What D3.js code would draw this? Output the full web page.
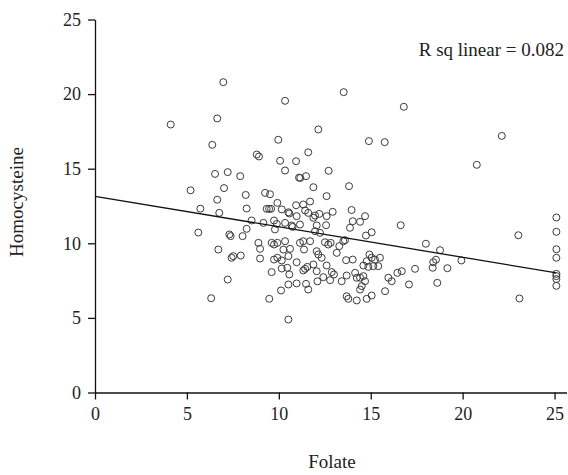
<!DOCTYPE html>
<html>
<head>
<meta charset="utf-8">
<script src="https://cdn.jsdelivr.net/npm/d3@7"></script>
<style>
  html, body { margin: 0; padding: 0; background: #fff; }
  svg { display: block; }
  text { font-family: "Liberation Serif", "DejaVu Serif", serif; fill: #222; }
</style>
</head>
<body>
<svg id="chart" width="568" height="475"></svg>
<script>
// ---- data ----
const folate = [
  4.12, 5.2, 5.62, 5.73, 6.32,
  6.98, 10.34, 6.65, 6.38, 9.97, 8.8, 8.92, 10.07, 10.94, 11.6, 10.34, 6.53, 7.22, 7.9, 11.1, 11.17, 11.48, 7.02, 11.88, 8.2,
  13.53, 16.8, 12.15, 14.9, 15.76, 12.71, 13.82, 12.6,
  9.25, 9.52, 6.65, 6.76, 8.25, 9.34, 9.47, 9.58, 9.92, 10.16, 10.52, 10.57, 10.94, 11.33, 11.7, 11.43, 11.6, 10.97, 11.97,
  8.52, 9.16, 9.74, 9.89, 10.34, 10.7, 10.75, 11.15, 12.06, 8.25, 9.79, 7.31, 7.38, 8.03, 8.89, 8.98, 9.61, 9.74, 9.92,
  10.34, 10.61, 11.15, 11.33, 11.7, 11.37, 10.25, 6.71, 7.43, 7.52, 7.93, 8.98, 9.74, 9.92, 10.16, 10.52, 10.97, 10.16,
  10.46, 9.61, 10.57, 11.43, 11.55, 11.33, 12.06, 7.22, 10.52, 10.97, 11.48, 11.6, 10.12, 9.48, 10.52, 12.06, 12.1,
  13.96, 12.93, 12.2, 12.6, 11.88, 14.69, 14.42, 14.02, 12.57, 13.87, 16.63, 11.97, 12.24, 15.05, 14.74, 12.51, 12.69,
  12.82, 13.51, 13.6, 13.29, 13.15, 12.15, 12.33, 18.0, 13.66, 14.02, 14.93, 15.05, 14.78, 15.23, 15.5, 14.6, 14.87,
  15.14, 15.41, 12.6, 12.88, 13.0, 11.88, 12.42, 12.79, 13.42, 13.69, 14.15, 14.24, 14.42, 14.6, 14.69, 14.51, 14.42,
  15.96, 16.14, 16.45, 16.69, 15.78, 17.08, 17.41, 13.69, 13.78, 14.24, 14.78, 15.05,
  22.13, 20.77, 23.03, 23.09, 25.1, 25.1, 25.1, 25.1, 25.1, 25.1, 25.1, 25.1,
  18.77, 18.55, 18.4, 18.37, 19.17, 19.93, 18.62
];
const homocysteine = [
  17.96, 13.55, 10.72, 12.32, 6.32,
  20.8, 19.55, 18.37, 16.6, 16.94, 15.95, 15.82, 15.53, 15.5, 16.1, 14.88, 14.65, 14.77, 14.5, 14.4, 14.38, 14.5, 13.7, 13.76, 13.24,
  20.13, 19.15, 17.63, 16.85, 16.78, 14.86, 13.83, 13.16,
  13.38, 13.29, 12.92, 12.04, 12.33, 12.31, 12.31, 12.31, 12.71, 12.27, 12.08, 12.0, 12.55, 12.6, 12.8, 12.2, 12.04, 11.82, 11.86,
  11.53, 11.37, 11.53, 11.3, 11.37, 11.19, 11.1, 11.26, 11.2, 10.97, 10.93, 10.59, 10.48, 10.48, 10.03, 9.63, 10.03, 9.92, 10.03,
  10.14, 9.63, 10.03, 10.14, 10.14, 9.58, 9.58, 9.58, 9.03, 9.14, 9.18, 8.98, 8.91, 9.03, 8.85, 9.14, 8.73, 8.31,
  8.36, 8.07, 7.91, 8.29, 8.42, 8.18, 8.13, 7.57, 7.24, 7.31, 7.28, 6.9, 6.84, 6.28, 4.89, 9.47, 7.45,
  12.23, 12.11, 11.97, 11.82, 11.71, 11.82, 11.44, 11.48, 11.21, 11.04, 11.21, 10.81, 10.7, 10.74, 10.52, 10.07, 9.92,
  10.03, 10.14, 10.21, 9.81, 9.36, 9.25, 9.03, 9.97, 8.87, 8.91, 9.25, 9.03, 8.8, 8.91, 9.03, 8.51, 8.42,
  8.47, 8.47, 8.51, 8.07, 7.91, 8.58, 7.73, 7.53, 7.46, 7.84, 8.02, 7.69, 7.69, 7.8, 7.46, 7.13, 6.9,
  7.69, 7.46, 8.02, 8.13, 6.79, 7.24, 8.29, 6.45, 6.28, 6.17, 6.28, 6.5,
  17.2, 15.26, 10.54, 6.3, 11.73, 10.77, 9.6, 9.03, 7.95, 7.8, 7.6, 7.15,
  9.54, 8.9, 8.73, 8.36, 8.33, 8.85, 7.35
];
const xTicks = [0, 5, 10, 15, 20, 25];
const yTicks = [0, 5, 10, 15, 20, 25];
const fitLine = [[0, 13.15], [25.1, 8.02]];   // linear fit endpoints
const rsqLabel = "R sq linear = 0.082";
const xTitle = "Folate";
const yTitle = "Homocysteine";

// ---- layout ----
const svg = d3.select("#chart");
const x = d3.scaleLinear().domain([0, 25.65]).range([95, 566.5]);
const y = d3.scaleLinear().domain([0, 25]).range([392.5, 19.5]);

const xAxis = svg.append("g")
  .attr("transform", `translate(0,${y(0)})`)
  .call(d3.axisBottom(x).tickValues(xTicks).tickSize(7).tickPadding(8).tickSizeOuter(0));
const yAxis = svg.append("g")
  .attr("transform", `translate(${x(0)},0)`)
  .call(d3.axisLeft(y).tickValues(yTicks).tickSize(7).tickPadding(7).tickSizeOuter(0));

[xAxis, yAxis].forEach(g => {
  g.select(".domain").attr("stroke", "#111").attr("stroke-width", 1.3);
  g.selectAll(".tick line").attr("stroke", "#111").attr("stroke-width", 1.3);
  g.selectAll(".tick text").style("font-family", '"Liberation Serif", serif')
    .style("font-size", "18px").attr("fill", "#222");
});

// points
const pts = folate.map((f, i) => ({ f, h: homocysteine[i] }));
svg.append("g").selectAll("circle").data(pts).join("circle")
  .attr("cx", d => x(d.f))
  .attr("cy", d => y(d.h))
  .attr("r", 3.5)
  .attr("fill", "none")
  .attr("stroke", "#3a3a3a")
  .attr("stroke-width", 1);

// fit line
svg.append("path")
  .datum(fitLine)
  .attr("d", d3.line().x(d => x(d[0])).y(d => y(d[1])))
  .attr("stroke", "#111")
  .attr("stroke-width", 1.3)
  .attr("fill", "none");

// labels
svg.append("text")
  .attr("x", 564).attr("y", 56)
  .attr("text-anchor", "end")
  .style("font-size", "19px")
  .text(rsqLabel);

svg.append("text")
  .attr("x", 332).attr("y", 468)
  .attr("text-anchor", "middle")
  .style("font-size", "19px")
  .text(xTitle);

svg.append("text")
  .attr("transform", `translate(23,202) rotate(-90)`)
  .attr("text-anchor", "middle")
  .style("font-size", "19px")
  .text(yTitle);
</script>
</body>
</html>
